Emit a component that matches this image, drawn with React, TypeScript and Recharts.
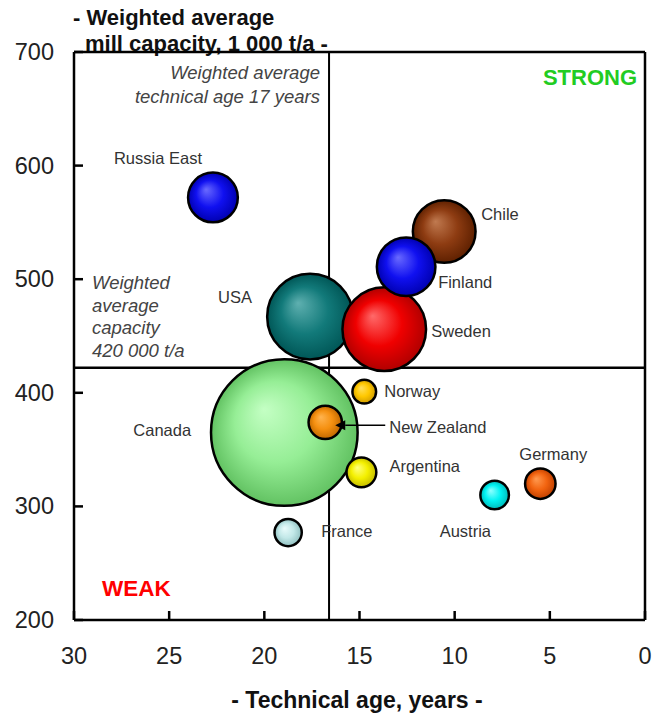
import React from 'react';
import { ScatterChart, Scatter, XAxis, YAxis, ZAxis, ReferenceLine, Customized } from 'recharts';

// ---- data ----
const countries = ['USA', 'Canada', 'Sweden', 'Chile', 'Finland', 'Russia East', 'Norway', 'New Zealand', 'Argentina', 'France', 'Austria', 'Germany'];
const technicalAge = [17.6, 18.95, 13.7, 10.55, 12.55, 22.7, 14.75, 16.8, 14.9, 18.75, 7.9, 5.5];
const millCapacity = [467, 365, 456, 542, 511, 572, 401, 374, 330, 277, 310, 320];
const totalCapacity = [194, 555, 185, 106, 93, 68, 17, 32, 26, 22, 24, 27];
const xTicks = [30, 25, 20, 15, 10, 5, 0];
const yTicks = [200, 300, 400, 500, 600, 700];
const avgAge = 16.6;
const avgCapacity = 422;

const data = countries.map((name, i) => ({ name, x: technicalAge[i], y: millCapacity[i], z: totalCapacity[i] }));

// ---- styles ----
const FONT = '"Liberation Sans", Arial, sans-serif';
const palette: Record<string, [string, string, string]> = {
  'USA': ['#5fb0b0', '#127a7a', '#005656'],
  'Canada': ['#c4ffc4', '#96ee96', '#62c262'],
  'Sweden': ['#ff6a6a', '#f00000', '#b00000'],
  'Chile': ['#c07a50', '#8e3c12', '#5e2000'],
  'Finland': ['#6a6aff', '#1010f0', '#0000b0'],
  'Russia East': ['#6a6aff', '#1010f0', '#0000b0'],
  'Norway': ['#ffe060', '#ffc800', '#d09c00'],
  'New Zealand': ['#ffb450', '#f59010', '#c06800'],
  'Argentina': ['#ffff80', '#f4f000', '#c4bc00'],
  'France': ['#eafcfc', '#c2e8e8', '#90c0c0'],
  'Austria': ['#90ffff', '#00f2f2', '#00baba'],
  'Germany': ['#ff9a50', '#f26410', '#c04000'],
};
const labelOffsets: Record<string, [number, number]> = {
  'USA': [-92, -20],
  'Canada': [-151, -3],
  'Sweden': [47, 2],
  'Chile': [37, -17],
  'Finland': [32, 15],
  'Russia East': [-99, -39],
  'Norway': [20, -1],
  'New Zealand': [64, 5],
  'Argentina': [28, -6],
  'France': [33, -2],
  'Austria': [-55, 36],
  'Germany': [-21, -30],
};
const gid = (name: string) => 'g-' + name.replace(/\s+/g, '-');

const Bubble = (props: any) => {
  const { cx, cy, width, payload } = props;
  if (cx == null || cy == null) return null;
  const r = Math.max(width / 2 - 1.2, 1);
  const name = payload.name as string;
  const [dx, dy] = labelOffsets[name] || [r + 5, 0];
  const lx = cx + dx;
  const ly = cy + dy;
  return (
    <g>
      <circle cx={cx} cy={cy} r={r} fill={`url(#${gid(name)})`} stroke="#000" strokeWidth={2.5} />
      <text x={lx} y={ly} fontFamily={FONT} fontSize={16.5} fill="#333" dominantBaseline="central">{name}</text>
      {name === 'New Zealand' && (
        <g>
          <line x1={lx - 4} y1={ly - 2} x2={cx + 20} y2={ly - 2} stroke="#000" strokeWidth={1.5} />
          <polygon points={`${cx + 10},${ly - 2} ${cx + 20},${ly - 7} ${cx + 20},${ly + 3}`} fill="#000" />
        </g>
      )}
    </g>
  );
};

const XTick = (props: any) => {
  const { x, y, payload } = props;
  return (
    <g>
      <line x1={x} y1={y} x2={x} y2={y - 9} stroke="#000" strokeWidth={2.5} />
      <text x={x} y={y + 36} textAnchor="middle" dominantBaseline="central" fontFamily={FONT} fontSize={23.5} fill="#222">{payload.value}</text>
    </g>
  );
};

const YTick = (props: any) => {
  const { x, y, payload } = props;
  return (
    <g>
      <line x1={x} y1={y} x2={x + 9} y2={y} stroke="#000" strokeWidth={2.5} />
      <text x={x - 20} y={y} textAnchor="end" dominantBaseline="central" fontFamily={FONT} fontSize={23.5} fill="#222">{payload.value}</text>
    </g>
  );
};

const Annotations = () => (
  <g fontFamily={FONT}>
    <text x={73} y={17} fontSize={22} fontWeight="bold" fill="#111" dominantBaseline="central">- Weighted average</text>
    <text x={85} y={43} fontSize={22} fontWeight="bold" fill="#111" dominantBaseline="central">mill capacity, 1 000 t/a -</text>
    <text x={357} y={700} fontSize={23} fontWeight="bold" fill="#111" textAnchor="middle" dominantBaseline="central">- Technical age, years -</text>
    <text x={320} y={72} fontSize={18.5} fontStyle="italic" fill="#444" textAnchor="end" dominantBaseline="central">Weighted average</text>
    <text x={320} y={96} fontSize={18.5} fontStyle="italic" fill="#444" textAnchor="end" dominantBaseline="central">technical age 17 years</text>
    <text x={92} y={282} fontSize={18.5} fontStyle="italic" fill="#444" dominantBaseline="central">Weighted</text>
    <text x={92} y={305} fontSize={18.5} fontStyle="italic" fill="#444" dominantBaseline="central">average</text>
    <text x={92} y={327} fontSize={18.5} fontStyle="italic" fill="#444" dominantBaseline="central">capacity</text>
    <text x={92} y={350} fontSize={18.5} fontStyle="italic" fill="#444" dominantBaseline="central">420 000 t/a</text>
    <text x={637} y={77} fontSize={22} fontWeight="bold" fill="#22cc22" textAnchor="end" dominantBaseline="central">STRONG</text>
    <text x={102} y={588} fontSize={22.5} fontWeight="bold" fill="#ff0000" dominantBaseline="central">WEAK</text>
  </g>
);

export default function App() {
  return (
    <div style={{ position: 'absolute', left: 0, top: 0, width: 654, height: 715, background: '#fff' }}>
      <ScatterChart width={654} height={715} margin={{ top: 52, right: 9, bottom: 0, left: 0 }}>
        <defs>
          {countries.map((name) => {
            const [hi, base, dark] = palette[name];
            return (
              <radialGradient key={name} id={gid(name)} cx="50%" cy="50%" r="50%" fx="36%" fy="34%">
                <stop offset="0%" stopColor={hi} />
                <stop offset="55%" stopColor={base} />
                <stop offset="100%" stopColor={dark} />
              </radialGradient>
            );
          })}
        </defs>
        <XAxis
          type="number"
          dataKey="x"
          domain={[0, 30]}
          ticks={xTicks}
          reversed
          interval={0}
          height={95}
          axisLine={false}
          tickLine={false}
          tickSize={0}
          tickMargin={0}
          tick={<XTick />}
          allowDataOverflow
        />
        <YAxis
          type="number"
          dataKey="y"
          domain={[200, 700]}
          ticks={yTicks}
          interval={0}
          width={74}
          axisLine={false}
          tickLine={false}
          tickSize={0}
          tickMargin={0}
          tick={<YTick />}
          allowDataOverflow
        />
        <ZAxis type="number" dataKey="z" domain={[0, 555]} range={[0, Math.PI * 74.5 * 74.5]} />
        <ReferenceLine x={avgAge} stroke="#000" strokeWidth={2} />
        <ReferenceLine y={avgCapacity} stroke="#000" strokeWidth={2.5} />
        <ReferenceLine x={30} stroke="#000" strokeWidth={2.5} />
        <ReferenceLine x={0} stroke="#000" strokeWidth={2.5} />
        <ReferenceLine y={700} stroke="#000" strokeWidth={2.5} />
        <ReferenceLine y={200} stroke="#000" strokeWidth={2.5} />
        <Scatter data={data} shape={<Bubble />} isAnimationActive={false} />
        <Customized component={Annotations} />
      </ScatterChart>
    </div>
  );
}
